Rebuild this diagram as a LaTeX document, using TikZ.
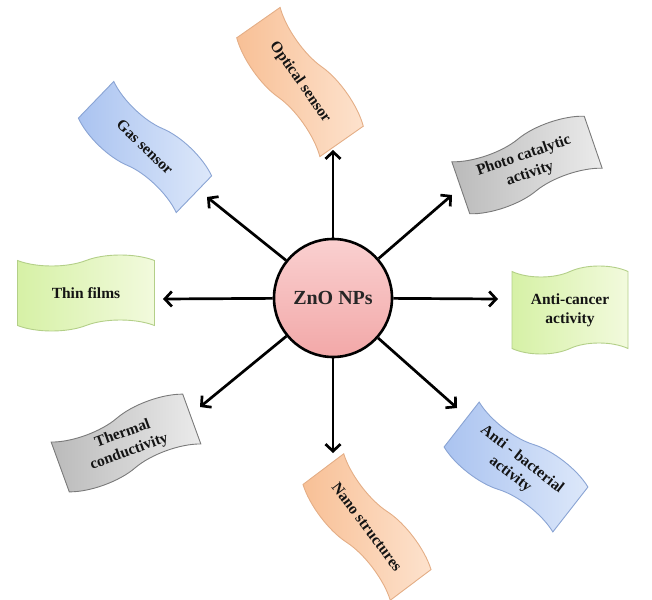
\documentclass[tikz,border=0pt]{standalone}
\usepackage{fontspec}
\setmainfont{Liberation Serif}
\usetikzlibrary{shapes.symbols,arrows.meta}
\definecolor{orL}{HTML}{F8C096}
\definecolor{orR}{HTML}{FDE2CD}
\definecolor{orB}{HTML}{E4AE86}
\definecolor{blL}{HTML}{AAC3F0}
\definecolor{blR}{HTML}{DDE8FA}
\definecolor{blB}{HTML}{8AA4D4}
\definecolor{grL}{HTML}{BABABA}
\definecolor{grR}{HTML}{EBEBEB}
\definecolor{grB}{HTML}{7A7A7A}
\definecolor{gnL}{HTML}{D6F1A6}
\definecolor{gnR}{HTML}{F2FADD}
\definecolor{gnB}{HTML}{B3CF88}
\definecolor{pkT}{HTML}{FAD0D0}
\definecolor{pkB}{HTML}{F2A8A8}
\begin{document}
\begin{tikzpicture}[x=1pt,y=-1pt,
  tag/.style={tape, tape bend height=11pt, draw, line width=0.9pt,
    font=\fontsize{15.5}{19}\selectfont\bfseries, align=center,
    inner sep=2pt, text=black!92},
  orangetag/.style={tag, draw=orB, left color=orL, right color=orR},
  bluetag/.style={tag, draw=blB, left color=blL, right color=blR},
  graytag/.style={tag, draw=grB, left color=grL, right color=grR},
  greentag/.style={tag, draw=gnB, left color=gnL, right color=gnR},
  hub/.style={circle, draw=black, line width=2.6pt, minimum size=118pt,
    top color=pkT, bottom color=pkB, inner sep=0pt,
    font=\fontsize{20}{22}\selectfont\bfseries, text=black!85},
  link/.style={line width=2.7pt, -{Straight Barb[length=7pt,width=15pt,line width=2.7pt]}}
]
\useasboundingbox (0,0) rectangle (652,599);

\node[hub] (c) at (333,298) {ZnO NPs};

\node[orangetag, minimum width=145pt, minimum height=64pt, rotate=-55] (opt) at (300,82) {Optical sensor};
\node[bluetag, minimum width=136pt, minimum height=62pt, rotate=-44] (gas) at (145,147) {Gas sensor};
\node[graytag, minimum width=140pt, minimum height=66pt, rotate=19] (pho) at (527,165) {Photo catalytic\\activity};
\node[greentag, minimum width=137pt, minimum height=76pt] (thin) at (86,293) {Thin films};
\node[greentag, minimum width=116pt, minimum height=88pt] (anc) at (570,310) {Anti-cancer\\activity};
\node[graytag, minimum width=140pt, minimum height=64pt, rotate=20] (the) at (126,443) {Thermal\\conductivity};
\node[orangetag, minimum width=145pt, minimum height=62pt, rotate=-53] (nano) at (367,527) {Nano structures};
\node[bluetag, minimum width=138pt, minimum height=68pt, rotate=-38] (bac) at (516,467) {Anti - bacterial\\activity};

\coordinate (tU) at (333,150);
\coordinate (tD) at (333,453);
\coordinate (tL) at (163,299);
\coordinate (tR) at (498,299);
\coordinate (tUL) at (207,197);
\coordinate (tUR) at (452,195);
\coordinate (tDL) at (200,407);
\coordinate (tDR) at (457,408);

\draw[link] (c) -- (tU);
\draw[link] (c) -- (tD);
\draw[link] (c) -- (tL);
\draw[link] (c) -- (tR);
\draw[link] (c) -- (tUL);
\draw[link] (c) -- (tUR);
\draw[link] (c) -- (tDL);
\draw[link] (c) -- (tDR);
\end{tikzpicture}
\end{document}
